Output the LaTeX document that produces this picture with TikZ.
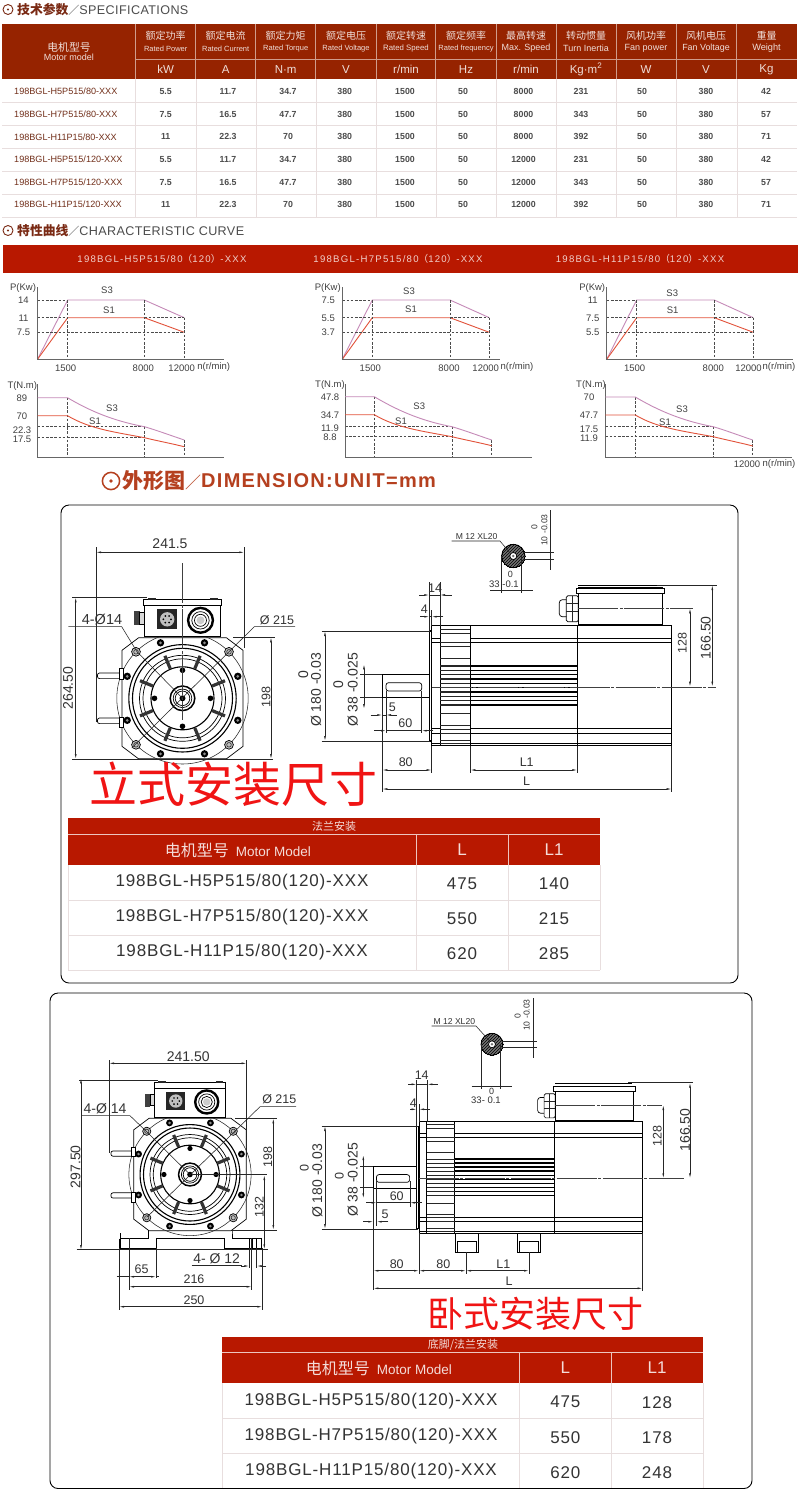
\documentclass[tikz,border=0pt]{standalone}
\usepackage{fontspec}
\setmainfont{Liberation Sans}
\newfontfamily\cjk{Noto Sans CJK SC}
\usetikzlibrary{arrows.meta,patterns,calc}
\definecolor{headred}{HTML}{962300}
\definecolor{bandred}{HTML}{B81800}
\definecolor{titlebrown}{HTML}{7A2A14}
\definecolor{titlered}{HTML}{B5401F}
\definecolor{cellline}{HTML}{E8DEDE}
\definecolor{curvethree}{HTML}{C58AB8}
\definecolor{curveone}{HTML}{E2523A}
\definecolor{bigred}{HTML}{F01414}
\tikzset{
	x=1pt, y=-1pt,
	txt/.style={inner sep=0pt, text=black!80},
	dimtext/.style={txt, font=\fontsize{12.5}{14}\selectfont},
	dimbig/.style={txt, font=\fontsize{14}{16}\selectfont},
	dimsmall/.style={txt, font=\fontsize{8.6}{10}\selectfont},
	charttext/.style={txt, font=\fontsize{9.5}{11}\selectfont, text=black!75},
	dimline/.style={line width=.55pt, black!85},
	dimboth/.style={dimline, {Latex[length=5pt,width=1.8pt]}-{Latex[length=5pt,width=1.8pt]}},
	dimtip/.style={dimline, -{Latex[length=5pt,width=1.8pt]}},
	hair/.style={line width=.35pt, black!75, dash pattern=on 40pt off 1.5pt on 3pt off 1.5pt},
	outline/.style={line width=.7pt, black},
	heavy/.style={line width=1.1pt, black},
	chartdash/.style={line width=.5pt, black!70, dash pattern=on 2.6pt off 1.6pt},
	chartaxis/.style={line width=.8pt, black!60},
	framebox/.style={line width=.9pt, black, rounded corners=8pt},
	tablehead/.style={text=white!85!bandred, inner sep=0pt},
}
\newcommand{\sectitle}[4]{%
	\draw[line width=.9pt, titlebrown] (8,#1) circle (5);
	\fill[titlebrown] (8,#1) circle (1.2);
	\node[inner sep=0pt, anchor=west, text=black!70] (#2) at (17,#1) {{\cjk\bfseries\fontsize{12.8}{14}\selectfont\color{titlebrown}#3}{\cjk\fontsize{11}{14}\selectfont ／}{\fontsize{12.6}{14}\selectfont\addfontfeature{LetterSpace=3}#4}};
}
\newcommand{\pchart}[9]{%
	\draw[curvethree, line width=.9pt] (#1,359.3) to (#2,300) to (#3,300) to (#4,317.7);
	\draw[curveone, line width=.9pt] (#1,359.3) to (#2,317.7) to (#3,317.7) to (#4,332.3);
	\draw[chartdash] (#1,300) to (#2,300) (#1,317.7) to (#2,317.7) (#3,317.7) to (#4,317.7) (#1,332.3) to (#4,332.3);
	\draw[chartdash] (#2,300) to (#2,359.3) (#3,300) to (#3,359.3) (#4,317.7) to (#4,359.3);
	\draw[chartaxis] (#1,287) to (#1,359.3) to (#5,359.3);
	\node[charttext] (p#6) at (#1-14.5,288) {P(Kw)};
	\node[charttext] (pa#6) at (#1-14,300) {#7};
	\node[charttext] (pb#6) at (#1-14,318) {#8};
	\node[charttext] (pc#6) at (#1-14,332) {#9};
	\node[charttext] (pn#6) at (#2-2,368) {1500};
	\node[charttext] (pm#6) at (#3-1,368) {8000};
}
\newcommand{\tchart}[9]{%
	\draw[chartdash] (#1,#6) to (#3,#6) (#1,#7) to (#3,#7);
	\draw[chartdash] (#2,#8) to (#2,457) (#3,#6) to (#3,457) (#4,#9) to (#4,457);
	\draw[chartaxis] (#1,384) to (#1,457) to (#5,457);
	\draw[curvethree, line width=.9pt] (#1,#8) to (#2,#8) .. controls (#2+22,#8+13) and (#3-32,#6-6) .. (#3,#6) .. controls (#3+12,#6+3.5) and (#4-12,#9-4) .. (#4,#9);
}
\newcommand{\tcurveone}[6]{%
	\draw[curveone, line width=.9pt] (#1,#4) to (#2,#4) .. controls (#2+22,#4+13) and (#3-32,#5-6) .. (#3,#5) .. controls (#3+12,#5+3) and (#3+28,#6-3) .. (#3+39.5,#6);
}
\newcommand{\frontview}[3]{%
	\begin{scope}[shift={(#1,#2)},scale=#3]
		\draw[outline] (-60.5,-48) to (-44,-60.5) to (44,-60.5) to (60.5,-48) to (60.5,48) to (44,60.5) to (-44,60.5) to (-60.5,48) -- cycle;
		\draw[dimline] (0,0) circle (65.7);
		\draw[heavy, fill=white] (0,0) circle (53.7);
		\draw[heavy] (0,0) circle (50);
		\draw[outline] (0,0) circle (43) (0,0) circle (39.5);
		\draw[heavy] (0,0) circle (31.5);
		\foreach \ang in {22.5,67.5,...,337.5}
			\draw[line width=3.2pt, black!80] (\ang:32) to (\ang:46);
		\foreach \bx/\by in {-22/-55.5,22/-55.5,-22/55.5,22/55.5,-55.3/-22,55.3/-22,-55.3/22,55.3/22} {
			\fill[black] (\bx,\by) circle (3.7);
			\fill[black!45] (\bx,\by) circle (1.5);
		}
		\foreach \bx/\by in {-46.5/-46.5,46.5/-46.5,-46.5/46.5,46.5/46.5} {
			\draw[outline, fill=black!25] (\bx,\by) circle (4.4);
			\draw[dimline] (\bx,\by) circle (2.3);
		}
		\foreach \ang in {0,90,180,270}
			\fill[black] (\ang:28) circle (2.8);
		\draw[line width=1.5pt, fill=white] (0,0) circle (12.3);
		\draw[outline] (0,0) circle (9.3) (0,0) circle (7.3);
		\fill[black] (0,0) circle (3);
		\foreach \sy in {-25.3,19.7}
			\draw[outline, fill=white, rounded corners=2pt] (-60,\sy) rectangle (-85,\sy+5.6);
		\draw[outline, fill=white] (-63,-29.5) rectangle (-59,-19) (-63,19) rectangle (-59,29.5);
		\fill[black!75] (-48.7,-87) rectangle (-43,-73);
		\draw[outline, fill=black!15] (-43,-86) rectangle (-37.7,-74);
		\draw[heavy, fill=white] (-37.7,-97) rectangle (38,-61.7);
		\draw[outline, fill=white] (-38.7,-98.7) rectangle (38.5,-93);
		\draw[dimline] (-34,-100.5) rectangle (-27,-98.7) (28,-100.5) rectangle (35,-98.7);
		\fill[black!85] (-25.3,-89) rectangle (-5.3,-69);
		\fill[black!25] (-15.3,-79) circle (7.2);
		\foreach \ang in {0,60,...,300}
			\fill[black] ($(-15.3,-79)+(\ang:3.8)$) circle (1);
		\draw[line width=2.4pt] (18,-78) circle (12.4);
		\draw[outline] (18,-78) circle (8.7) (18,-78) circle (6);
		\fill[black!20] (18,-78) circle (4);
	\end{scope}
}
\newcommand{\sideview}[3]{%
	\begin{scope}[shift={(#1,#2)},scale=#3]
		\draw[outline] (-47,-12.4) to (0,-12.4) (-47,11) to (0,11) (-47,-12.4) to (-47,11);
		\draw[outline, rounded corners=2.5pt] (-43.3,-4) rectangle (-7.6,4.3);
		\draw[heavy] (0,-55.7) rectangle (2.4,54.3);
		\draw[outline] (2.4,-61) rectangle (10.7,59);
		\draw[outline] (10.7,-61) rectangle (41,59);
		\draw[heavy] (41,-61) rectangle (242.4,59);
		\draw[outline] (148,-61) to (148,59);
		\foreach \hy in {-48.4,-44,41.6,46.6,56.6} {
			\draw[outline] (2.4,\hy) to (10.7,\hy);
			\draw[outline] (41,\hy) to (242.4,\hy);
		}
		\foreach \hy in {-57.7,-53.4,-44,-40,-28.4,26.6,38.3,42.3,46.6,53.3,56.6}
			\draw[dimline] (10.7,\hy) to (41,\hy);
		\foreach \kk in {0,...,9} {
			\draw[line width=1.3pt] (41,{-20.7+4.33*\kk}) to (148,{-20.7+4.33*\kk});
			\draw[line width=1.1pt, black!85] (10.7,{-20.7+4.33*\kk}) to (41,{-20.7+4.33*\kk});
		}
		\draw[outline, fill=white, rounded corners=3pt] (130,-87) rectangle (140,-70);
		\draw[outline, fill=white, rounded corners=1.5pt] (137,-91) rectangle (149,-65);
		\draw[dimline] (137,-83) to (149,-83) (137,-75) to (149,-75) (143,-91) to (143,-65);
		\draw[heavy, fill=white] (149,-98.7) rectangle (233.4,-61.7);
		\draw[outline, fill=white] (146.7,-98.4) rectangle (234.7,-93.4);
		\draw[outline] (149,-101.7) to (232,-101.7);
		\draw[hair] (149,-78.4) to (264,-78.4);
		\draw[hair] (2.4,0) to (287,0);
	\end{scope}
}
\newcommand{\keysec}[3]{%
	\draw[outline, fill=black!55] (#1,#2) circle (#3);
	\draw[line width=0pt, pattern=north east lines] (#1,#2) circle (#3);
	\draw[outline, fill=white] (#1,#2) circle (3.5);
	\fill[black!55] (#1,#2) circle (1.4);
}
\newcommand{\modeltable}[9]{%
	\fill[bandred] (#1,#5) rectangle (#4,#7);
	\draw[white!75!bandred, line width=.7pt] (#1,#6) to (#4,#6) (#2,#6) to (#2,#7) (#3,#6) to (#3,#7);
	\foreach \rr in {1,2,3}
		\draw[cellline, line width=.7pt] (#1,{#7+\rr*#8}) to (#4,{#7+\rr*#8});
	\draw[cellline, line width=.7pt] (#1,#7) to (#1,{#7+3*#8}) (#2,#7) to (#2,{#7+3*#8}) (#3,#7) to (#3,{#7+3*#8}) (#4,#7) to (#4,{#7+3*#8});
	\foreach \model/\valL/\valK [count=\rr] in {#9} {
		\node[txt, font=\fontsize{17}{19}\selectfont\addfontfeature{LetterSpace=5}] (mod#1-\rr) at ({(#1+#2)/2},{#7+(\rr-.5)*#8}) {198BGL-\model};
		\node[txt, font=\fontsize{17}{19}\selectfont\addfontfeature{LetterSpace=5}] (len#1-\rr) at ({(#2+#3)/2},{#7+(\rr-.46)*#8}) {\valL};
		\node[txt, font=\fontsize{17}{19}\selectfont\addfontfeature{LetterSpace=5}] (lk#1-\rr) at ({(#3+#4)/2},{#7+(\rr-.46)*#8}) {\valK};
	}
	\node[tablehead, font=\fontsize{17}{19}\selectfont] (hl#1) at ({(#2+#3)/2},{(#6+#7)/2}) {L};
	\node[tablehead, font=\fontsize{17}{19}\selectfont] (hk#1) at ({(#3+#4)/2},{(#6+#7)/2}) {L1};
}
\begin{document}
\begin{tikzpicture}
	\useasboundingbox (0,0) rectangle (800,1500);
	\fill[white] (0,0) rectangle (800,1500);

	\sectitle{9.5}{spectitle}{技术参数}{SPECIFICATIONS}
	\fill[headred] (2,23.5) rectangle (796.5,79);
	\draw[white!55!headred, line width=.6pt] (135.6,59.5) to (796.5,59.5);
	\node[txt, text=white!85!headred, font=\cjk\fontsize{10.8}{12}\selectfont] (hmotorzh) at (69,47) {电机型号};
	\node[txt, text=white!85!headred, font=\fontsize{9}{11}\selectfont] (hmotoren) at (69,57.5) {Motor model};
	\foreach \xl/\xc/\zh/\en/\fs/\unit in {
		135.6/165.7/额定功率/Rated Power/7.5/kW,
		195.7/225.7/额定电流/Rated Current/7.5/A,
		255.7/285.7/额定力矩/Rated Torque/7.5/N·m,
		315.7/346/额定电压/Rated Voltage/7.5/V,
		376/406/额定转速/Rated Speed/7.8/{r/min},
		435.7/466/额定频率/Rated frequency/7.5/Hz,
		496.3/526/最高转速/Max. Speed/9/{r/min},
		556.3/586/转动惯量/Turn Inertia/9/Kg·m\textsuperscript{2},
		616.3/646/风机功率/Fan power/9/W,
		676.3/706/风机电压/Fan Voltage/8.9/V,
		736.7/766.5/重量/Weight/9.2/Kg} {
		\draw[white!55!headred, line width=.6pt] (\xl,23.5) to (\xl,79);
		\node[txt, text=white!85!headred, font=\cjk\fontsize{10}{12}\selectfont] at (\xc,35.5) {\zh};
		\node[txt, text=white!85!headred, font=\fontsize{\fs}{11}\selectfont] at (\xc,48.5) {\en};
		\node[txt, text=white!85!headred, font=\fontsize{11.5}{13}\selectfont] at (\xc,69.5) {\unit};
		\draw[cellline] (\xl,79) to (\xl,217.5);
	}
	\foreach \yy in {102.3,125.7,148.7,171.7,194.7,217.5}
		\draw[cellline, line width=.7pt] (2,\yy) to (796.5,\yy);
	\foreach \mname [count=\rr] in {H5P515/80,H7P515/80,H11P15/80,H5P515/120,H7P515/120,H11P15/120}
		\node[txt, anchor=west, text=headred!65!black!90, font=\fontsize{9.1}{11}\selectfont] (model\rr) at (14,{91.7+22.6*(\rr-1)}) {198BGL-\mname-XXX};
	\foreach \cx/\vals [count=\cc] in {
		165.7/{5.5,7.5,11,5.5,7.5,11},
		228/{11.7,16.5,22.3,11.7,16.5,22.3},
		288/{34.7,47.7,70,34.7,47.7,70},
		344.7/{380,380,380,380,380,380},
		405/{1500,1500,1500,1500,1500,1500},
		463/{50,50,50,50,50,50},
		523.5/{8000,8000,8000,12000,12000,12000},
		581/{231,343,392,231,343,392},
		642/{50,50,50,50,50,50},
		706/{380,380,380,380,380,380},
		766/{42,57,71,42,57,71}}
		\foreach \vv [count=\rr] in \vals
			\node[txt, text=black!70, font=\fontsize{8.8}{10}\selectfont\bfseries] (cell\cc-\rr) at (\cx,{91.7+22.6*(\rr-1)}) {\vv};

	\sectitle{230.5}{curvetitle}{特性曲线}{CHARACTERISTIC CURVE}
	\fill[bandred] (3,245) rectangle (798,273);
	\foreach \bx/\bname in {162/H5P515,398/H7P515,640/H11P15}
		\node[txt, text=white!80!bandred, font=\fontsize{9.6}{11}\selectfont\addfontfeature{LetterSpace=13}] (band\bname) at (\bx,259) {198BGL-\bname/80{\cjk（}120{\cjk）}-XXX};

	\pchart{37.5}{67.7}{144.3}{184.3}{224}{A}{14}{11}{7.5}
	\pchart{342.3}{372.3}{450}{489.3}{500}{B}{7.5}{5.5}{3.7}
	\pchart{606.7}{636.7}{714.3}{753.3}{792.7}{C}{11}{7.5}{5.5}
	\foreach \nx/\lx/\nm in {181.7/213.7/A,485.7/517/B,748.5/779/C} {
		\node[charttext] (top\nm) at (\nx,368) {12000};
		\node[charttext] (rpm\nm) at (\lx,367) {n(r/min)};
	}
	\tchart{37.5}{67.5}{144.5}{184.3}{224}{426.7}{437.7}{397.7}{440}
	\tcurveone{37.5}{67.5}{144.5}{415.7}{437.7}{446.7}
	\tchart{345}{374.3}{452}{491.7}{531.7}{426.7}{436.7}{396.7}{440}
	\tcurveone{345}{374.3}{452}{414.7}{436.7}{445.7}
	\tchart{605.3}{635.3}{713.3}{752.7}{791.7}{426.7}{436.7}{397}{440}
	\tcurveone{605.3}{635.3}{713.3}{415}{436.7}{446}
	\foreach \tx/\ta/\tb/\tc/\td/\ya/\yb/\yc/\yd [count=\cc] in {
		22/89/70/22.3/17.5/398.3/416.3/430/439.3,
		330/47.8/34.7/11.9/8.8/397.3/415.3/428.3/437.3,
		589/70/47.7/17.5/11.9/397.3/415.3/429/438.7} {
		\node[charttext] (ta\cc) at (\tx,\ya) {\ta};
		\node[charttext] (tb\cc) at (\tx,\yb) {\tb};
		\node[charttext] (tc\cc) at (\tx,\yc) {\tc};
		\node[charttext] (td\cc) at (\tx,\yd) {\td};
	}
	\foreach \tx/\ty [count=\cc] in {22.3/386,330/385,591/385}
		\node[charttext] (tq\cc) at (\tx,\ty) {T(N.m)};
	\foreach \sx/\sy/\st [count=\cc] in {107/290/S3,109/310.7/S1,409/291/S3,411/309.3/S1,672.3/293.3/S3,672.7/310.3/S1,112/408.7/S3,95/421/S1,419.3/406.7/S3,401/421/S1,682/409.3/S3,665/422/S1}
		\node[charttext] (slab\cc) at (\sx,\sy) {\st};
	\node[charttext] (top3) at (747,464) {12000};
	\node[charttext] (rpm3) at (779,464) {n(r/min)};

	\draw[line width=1.5pt, titlered] (111,481) circle (8.6);
	\fill[titlered] (111,481) circle (1.9);
	\node[inner sep=0pt, anchor=west, text=titlered] (dimtitle) at (122,481) {{\cjk\bfseries\fontsize{21}{23}\selectfont 外形图}{\cjk\fontsize{16}{18}\selectfont ／}};
	\node[inner sep=0pt, anchor=west, text=titlered, font=\bfseries\fontsize{20}{22}\selectfont\addfontfeature{LetterSpace=6.5}] (dimunit) at (201,481) {DIMENSION:UNIT=mm};

	\draw[framebox] (61,505) rectangle (738,983);
	\draw[framebox] (50,993) rectangle (752,1488.5);

	\frontview{182.5}{698.3}{1}
	\draw[hair] (182.5,563.3) to (182.5,720);
	\sideview{429.3}{686.7}{1}
	\keysec{513.3}{556}{11.7}
	\node[txt, font=\fontsize{48}{50}\selectfont\cjk, text=bigred] (vertmount) at (233.5,784) {立式安装尺寸};

	\draw[dimboth] (96,552.3) to (244.3,552.3);
	\draw[dimline] (96,547) to (96,721.7) (244.3,547) to (244.3,648);
	\node[dimbig] (wa) at (170,544) {241.5};
	\draw[dimboth] (75.7,597.3) to (75.7,759);
	\draw[dimline] (72,597.3) to (147,597.3) (72,759) to (273,759);
	\node[dimbig, rotate=90] (ha) at (68,688) {264.50};
	\draw[dimboth] (271,637.3) to (271,759);
	\draw[dimline] (233,637.3) to (275,637.3);
	\node[dimtext, rotate=90] (ja) at (266,696.7) {198};
	\draw[dimline] (68.3,626.7) to (121.7,626.7) to (137,651.7) to (182.5,698.3);
	\node[dimbig, font=\fontsize{14.5}{16}\selectfont] (holea) at (102,619.3) {4-Ø14};
	\draw[dimline] (295,626.7) to (254.3,626.7) to (131.7,748);
	\node[dimtext] (dia) at (277,620) {Ø 215};

	\draw[dimboth] (325,631) to (325,741);
	\draw[dimline] (321.7,631) to (430,631) (321.7,741) to (430,741);
	\node[dimbig, rotate=90] (pa) at (316,690) {Ø 180 -0.03};
	\node[dimbig, rotate=90] (pza) at (303.3,675) {0};
	\draw[dimboth] (364,664.3) to (364,709);
	\draw[dimline] (360,674.3) to (382.3,674.3) (360,697.7) to (382.3,697.7);
	\node[dimbig, rotate=90] (sa) at (352.7,690) {Ø 38 -0.025};
	\node[dimbig, rotate=90] (sza) at (338.3,685) {0};
	\draw[dimtip] (370.7,715) to (382.3,715);
	\draw[dimtip] (396.7,715) to (386,715);
	\draw[dimline] (382.3,715) to (386,715) (386,691) to (386,733) (421.7,691) to (421.7,733);
	\node[dimtext] (fa) at (392.3,707.3) {5};
	\draw[dimtip] (374,730.7) to (386,730.7);
	\draw[dimtip] (433.3,730.7) to (421.7,730.7);
	\draw[dimline] (386,730.7) to (421.7,730.7);
	\node[dimtext] (ga) at (405.3,723.3) {60};
	\draw[dimboth] (382.3,770) to (431.7,770);
	\draw[dimline] (382.3,697.7) to (382.3,792) (431.7,745.7) to (431.7,773);
	\node[dimtext] (ea) at (405.7,762.3) {80};
	\draw[dimboth] (470.3,770) to (577.3,770);
	\draw[dimline] (470.3,745.7) to (470.3,773) (577.3,745.7) to (577.3,773);
	\node[dimtext] (la) at (526.7,762.3) {L1};
	\draw[dimboth] (382.3,789) to (671.7,789);
	\draw[dimline] (671.7,745.7) to (671.7,792);
	\node[dimtext] (lb) at (526.7,781) {L};
	\draw[dimtip] (419.3,595) to (429.3,595);
	\draw[dimtip] (451.7,595) to (440,595);
	\draw[dimline] (429.3,595) to (440,595) (429.3,582) to (429.3,631) (440,582) to (440,625.7);
	\node[dimtext] (na) at (435,587.7) {14};
	\draw[dimtip] (420,616.7) to (429.3,616.7);
	\draw[dimtip] (443.3,616.7) to (431.7,616.7);
	\draw[dimline] (429.3,616.7) to (431.7,616.7) (431.7,610) to (431.7,625.7);
	\node[dimtext] (qa) at (424.3,609.3) {4};
	\draw[dimboth] (690,608.3) to (690,686.7);
	\node[dimtext, rotate=90] (ra) at (682.3,643.3) {128};
	\draw[dimboth] (712.3,585) to (712.3,686.7);
	\draw[dimline] (656.7,585) to (716.7,585);
	\node[dimbig, rotate=90] (ta) at (705.7,637.7) {166.50};
	\draw[dimline] (451.7,541) to (500,541) to (510,553);
	\node[dimsmall] (ma) at (476.7,536.7) {M 12 XL20};
	\draw[dimline] (550,510) to (550,570);
	\draw[dimline] (523.3,552.7) to (554,552.7) (523.3,559.3) to (554,559.3);
	\node[dimsmall, rotate=90] (ka) at (544.3,530) {10 -0.03};
	\node[dimsmall, rotate=90] (kza) at (534.3,527.3) {0};
	\draw[dimline] (501.7,556) to (501.7,593.3) (521.7,556) to (521.7,593.3) (490,590) to (533.3,590);
	\node[dimsmall, font=\fontsize{9.5}{11}\selectfont] (ca) at (504,584.3) {33 -0.1};
	\node[dimsmall, font=\fontsize{9}{11}\selectfont] (cza) at (510.3,574) {0};

	\modeltable{68}{416}{508}{600}{818.3}{834.3}{865}{35}{{H5P515/80(120)-XXX}/475/140,{H7P515/80(120)-XXX}/550/215,{H11P15/80(120)-XXX}/620/285}
	\node[tablehead, font=\cjk\fontsize{11}{13}\selectfont] (subA) at (334,826.5) {法兰安装};
	\node[tablehead] (motorA) at (238,850.7) {{\cjk\fontsize{16}{18}\selectfont 电机型号}\hspace{7pt}{\fontsize{13.5}{15}\selectfont Motor Model}};

	\draw[outline] (120,1233) to (120,1248.3) to (156,1248.3) to (156,1238.5) to (224,1238.5) to (224,1248.3) to (261.5,1248.3) to (261.5,1238.5) to (232,1238.5) to (232,1230) to (232,1238.5);
	\draw[outline] (120,1238.5) to (148.3,1238.5) to (148.3,1230);
	\draw[outline] (119,1238.5) to (119,1248.3) (249.3,1238.5) to (249.3,1248.3) (256.7,1238.5) to (256.7,1248.3) (252,1238.5) to (252,1248.3);
	\frontview{190}{1174.5}{.93}
	\sideview{416.7}{1178.3}{.93}
	\keysec{492}{1044.3}{11}
	\foreach \fx in {455.3,517.3} {
		\draw[outline, fill=white] (\fx,1233.3) rectangle (\fx+23.2,1252.3);
		\draw[outline] (\fx+2,1241) rectangle (\fx+21,1252.3);
	}
	\node[txt, font=\fontsize{36}{38}\selectfont\cjk, text=bigred] (horzmount) at (535.5,1314) {卧式安装尺寸};

	\draw[dimboth] (109,1063.3) to (246.7,1063.3);
	\draw[dimline] (109,1060) to (109,1153) (246.7,1060) to (246.7,1157);
	\node[dimbig] (wb) at (188.3,1056.7) {241.50};
	\draw[dimboth] (81,1078.3) to (81,1250);
	\draw[dimline] (79.3,1080.7) to (158.3,1080.7) (76.7,1249.3) to (268,1249.3);
	\node[dimbig, rotate=90] (hb) at (75.5,1166.7) {297.50};
	\draw[dimboth] (273.3,1118.3) to (273.3,1230);
	\draw[dimline] (235,1118.3) to (276.7,1118.3) (231.7,1230) to (276.7,1230);
	\node[dimtext, rotate=90] (jb) at (267.7,1156.7) {198};
	\draw[dimboth] (264.3,1175) to (264.3,1249.3);
	\draw[dimline] (193,1174) to (266.7,1174);
	\node[dimtext, rotate=90] (kb) at (259.3,1207.3) {132};
	\draw[dimline] (81.7,1115.7) to (130,1115.7) to (146.7,1131.7) to (190,1174.5);
	\node[dimbig] (holeb) at (105,1109) {4-Ø 14};
	\draw[dimline] (296,1106.7) to (260,1106.7) to (146.7,1217.3);
	\node[dimtext] (dib) at (279.3,1099.3) {Ø 215};
	\draw[dimline] (191.7,1265) to (241.7,1265);
	\node[dimbig] (footb) at (216.7,1259) {4- Ø 12};
	\draw[dimline] (249.3,1248) to (249.3,1268) (256.7,1248) to (256.7,1268);
	\draw[dimtip] (241,1266) to (249.3,1266);
	\draw[dimtip] (266,1266) to (256.7,1266);
	\draw[dimboth] (129,1276.7) to (156,1276.7);
	\draw[dimline] (116.7,1276.7) to (129,1276.7) (156,1276.7) to (159.3,1276.7) (156,1248.3) to (156,1278);
	\node[dimtext] (gb) at (141.7,1269.3) {65};
	\draw[dimboth] (129,1286.7) to (251.7,1286.7);
	\draw[dimline] (129,1238) to (129,1290) (251.7,1238) to (251.7,1290);
	\node[dimtext] (ib) at (194,1279.3) {216};
	\draw[dimboth] (119,1306.7) to (262.3,1306.7);
	\draw[dimline] (119,1248) to (119,1310) (262.3,1248) to (262.3,1310);
	\node[dimtext] (ub) at (194,1300) {250};

	\draw[dimboth] (325,1126) to (325,1229);
	\draw[dimline] (321.7,1126) to (418,1126) (321.7,1229) to (418,1229);
	\node[dimbig, rotate=90] (pb) at (317.3,1181) {Ø 180 -0.03};
	\node[dimtext, rotate=90] (pzb) at (304.3,1168.3) {0};
	\draw[dimboth] (363.3,1155) to (363.3,1198.3);
	\draw[dimline] (360,1166) to (373.3,1166) (360,1187.7) to (373.3,1187.7);
	\node[dimbig, rotate=90] (sb) at (352.7,1180) {Ø 38 -0.025};
	\node[dimtext, rotate=90] (szb) at (339.3,1176) {0};
	\draw[dimtip] (366,1202.7) to (376.7,1202.7);
	\draw[dimtip] (421.7,1202.7) to (410,1202.7);
	\draw[dimline] (376.7,1202.7) to (410,1202.7) (376.7,1181) to (376.7,1226) (410,1181) to (410,1207);
	\node[dimtext] (gc) at (396.7,1196) {60};
	\draw[dimtip] (363.3,1221.7) to (373.3,1221.7);
	\draw[dimtip] (388.3,1221.7) to (376.7,1221.7);
	\node[dimtext] (fb) at (385,1214.5) {5};
	\draw[dimline] (373.3,1187.7) to (373.3,1290) (419,1233.3) to (419,1274) (466,1252.3) to (466,1274) (529,1252.3) to (529,1274) (642.7,1233.3) to (642.7,1291);
	\draw[dimboth] (373.3,1270.7) to (419,1270.7);
	\draw[dimboth] (419,1270.7) to (466,1270.7);
	\draw[dimboth] (466,1270.7) to (529,1270.7);
	\node[dimtext] (eb) at (396.7,1264) {80};
	\node[dimtext] (ec) at (443.3,1264) {80};
	\node[dimtext] (lc) at (503.3,1264) {L1};
	\draw[dimboth] (373.3,1288.3) to (642.7,1288.3);
	\node[dimtext] (ld) at (509,1281) {L};
	\draw[dimtip] (408.3,1084.3) to (416.7,1084.3);
	\draw[dimtip] (437.7,1084.3) to (427.3,1084.3);
	\draw[dimline] (416.7,1084.3) to (427.3,1084.3) (416.7,1080) to (416.7,1126) (427.3,1080) to (427.3,1121.7);
	\node[dimtext] (nb) at (421.7,1075) {14};
	\draw[dimtip] (410,1109.3) to (416.7,1109.3);
	\draw[dimtip] (430,1109.3) to (419,1109.3);
	\draw[dimline] (419,1104) to (419,1121.7);
	\node[dimtext] (qb) at (413.3,1102.7) {4};
	\draw[dimboth] (663.3,1105) to (663.3,1178.3);
	\node[dimtext, rotate=90] (rb) at (657.3,1136) {128};
	\draw[dimboth] (690,1082.7) to (690,1178.3);
	\draw[dimline] (628.3,1082.7) to (693.3,1082.7);
	\node[dimbig, rotate=90] (tb) at (685,1130) {166.50};
	\draw[dimline] (431.7,1026) to (476,1026) to (489.3,1040.7);
	\node[dimsmall] (mb) at (454.3,1021.3) {M 12 XL20};
	\draw[dimline] (533.3,998) to (533.3,1058.3);
	\draw[dimline] (501.7,1041.7) to (536.7,1041.7) (501.7,1047.7) to (536.7,1047.7);
	\node[dimsmall, rotate=90] (kc) at (526.7,1015) {10 -0.03};
	\node[dimsmall, rotate=90] (kzb) at (517.7,1016) {0};
	\draw[dimline] (481.7,1044.3) to (481.7,1089.3) (500.7,1044.3) to (500.7,1089.3) (471.7,1086) to (511.7,1086);
	\node[dimsmall, font=\fontsize{9.5}{11}\selectfont] (cb) at (486,1100.7) {33- 0.1};
	\node[dimsmall, font=\fontsize{9}{11}\selectfont] (czb) at (491.7,1091) {0};

	\modeltable{222.4}{519.7}{611}{703}{1336.7}{1352.3}{1383.3}{35}{{H5P515/80(120)-XXX}/475/128,{H7P515/80(120)-XXX}/550/178,{H11P15/80(120)-XXX}/620/248}
	\node[tablehead, font=\cjk\fontsize{11}{13}\selectfont] (subB) at (463,1345) {底脚/法兰安装};
	\node[tablehead] (motorB) at (379,1368.3) {{\cjk\fontsize{16}{18}\selectfont 电机型号}\hspace{7pt}{\fontsize{13.5}{15}\selectfont Motor Model}};
	\draw[line width=.9pt, black] (60,1488.5) to (742,1488.5);
\end{tikzpicture}
\end{document}
